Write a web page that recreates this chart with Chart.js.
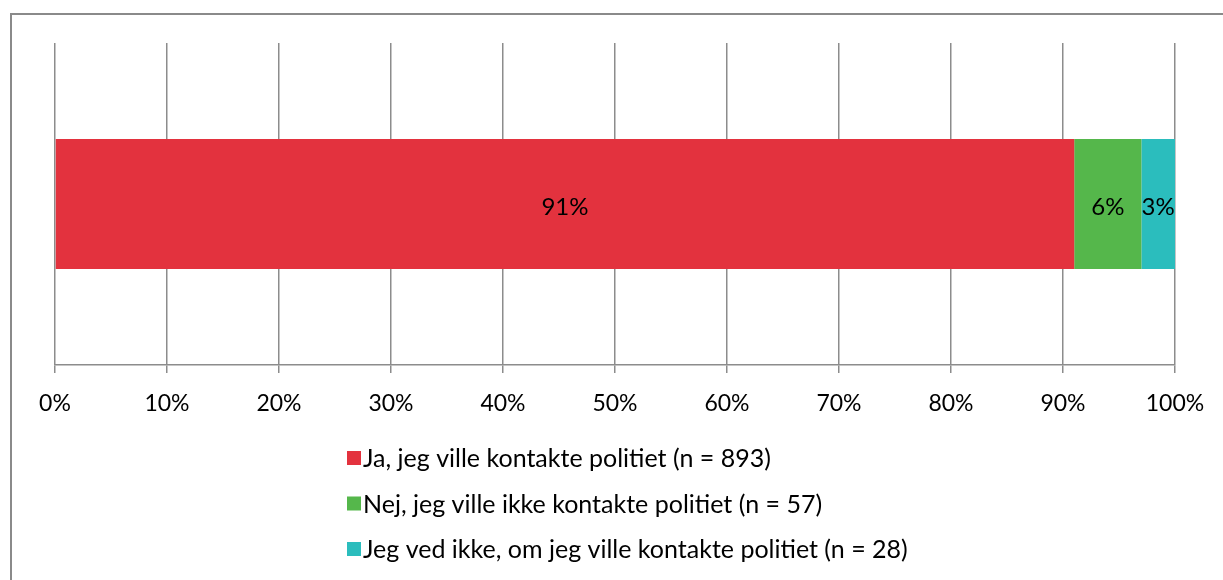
<!DOCTYPE html>
<html>
<head>
<meta charset="utf-8">
<script src="https://cdn.jsdelivr.net/npm/chart.js@4"></script>
<style>
  body { margin: 0; background: #fff; }
  #wrap { position: relative; width: 1223px; height: 580px; }
  #frame { position: absolute; left: 10px; top: 13px; right: 0; bottom: 0;
           border-top: 2px solid #8a8a8a; border-left: 2px solid #8a8a8a; }
  canvas { position: absolute; left: 0; top: 0; }
</style>
</head>
<body>
<div id="wrap">
  <div id="frame"></div>
  <canvas id="chart" width="1223" height="580"></canvas>
</div>
<script>
const categories = [''];
const seriesNames = [
    'Ja, jeg ville kontakte politiet (n = 893)',
    'Nej, jeg ville ikke kontakte politiet (n = 57)',
    'Jeg ved ikke, om jeg ville kontakte politiet (n = 28)'
];
const seriesValues = [91, 6, 3];
const seriesColors = ['#e3323e', '#55b74b', '#2bbdbd'];
const tickLabels = ['0%', '10%', '20%', '30%', '40%', '50%', '60%', '70%', '80%', '90%', '100%'];

const FONT = 'Lato';

// percent labels in the middle of each segment
const barLabels = {
    id: 'barLabels',
    afterDatasetsDraw(chart) {
        const ctx = chart.ctx;
        ctx.save();
        ctx.font = '24px ' + FONT;
        ctx.fillStyle = '#000';
        ctx.textAlign = 'center';
        ctx.textBaseline = 'middle';
        chart.data.datasets.forEach((ds, i) => {
            chart.getDatasetMeta(i).data.forEach((bar, j) => {
                const p = bar.getProps(['x', 'y', 'base'], true);
                ctx.fillText(ds.data[j] + '%', (p.x + p.base) / 2, p.y + 3);
            });
        });
        ctx.restore();
    }
};

// vertical legend under the axis
const sideLegend = {
    id: 'sideLegend',
    afterDraw(chart) {
        const ctx = chart.ctx;
        ctx.save();
        ctx.font = '25px ' + FONT;
        ctx.textBaseline = 'middle';
        chart.data.datasets.forEach((ds, i) => {
            const y = 458 + i * 45.5;
            ctx.fillStyle = ds.backgroundColor;
            ctx.fillRect(347, y - 7, 14, 14);
            ctx.fillStyle = '#000';
            ctx.fillText(ds.label, 363, y + 1);
        });
        ctx.restore();
    }
};

new Chart(document.getElementById('chart'), {
    type: 'bar',
    data: {
        labels: categories,
        datasets: seriesNames.map((name, i) => ({
            label: name,
            data: [seriesValues[i]],
            backgroundColor: seriesColors[i],
            borderWidth: 0,
            barPercentage: 0.404,
            categoryPercentage: 1
        }))
    },
    options: {
        indexAxis: 'y',
        responsive: false,
        animation: false,
        layout: { padding: { top: 43, left: 55, right: 48, bottom: 0 } },
        plugins: {
            legend: { display: false },
            tooltip: { enabled: false }
        },
        scales: {
            x: {
                stacked: true,
                min: 0,
                max: 100,
                afterFit: s => { s.height = 215; },
                afterBuildTicks: s => { s.ticks = tickLabels.map((t, i) => ({ value: i * 10 })); },
                grid: { color: '#8c8c8c', lineWidth: 1.5, tickLength: 8, drawTicks: true },
                border: { color: '#8c8c8c', width: 1.5 },
                ticks: {
                    color: '#000',
                    padding: 17,
                    maxRotation: 0,
                    font: { family: FONT, size: 23 },
                    callback: (v, i) => tickLabels[i]
                }
            },
            y: {
                stacked: true,
                display: false
            }
        }
    },
    plugins: [barLabels, sideLegend]
});
</script>
</body>
</html>
